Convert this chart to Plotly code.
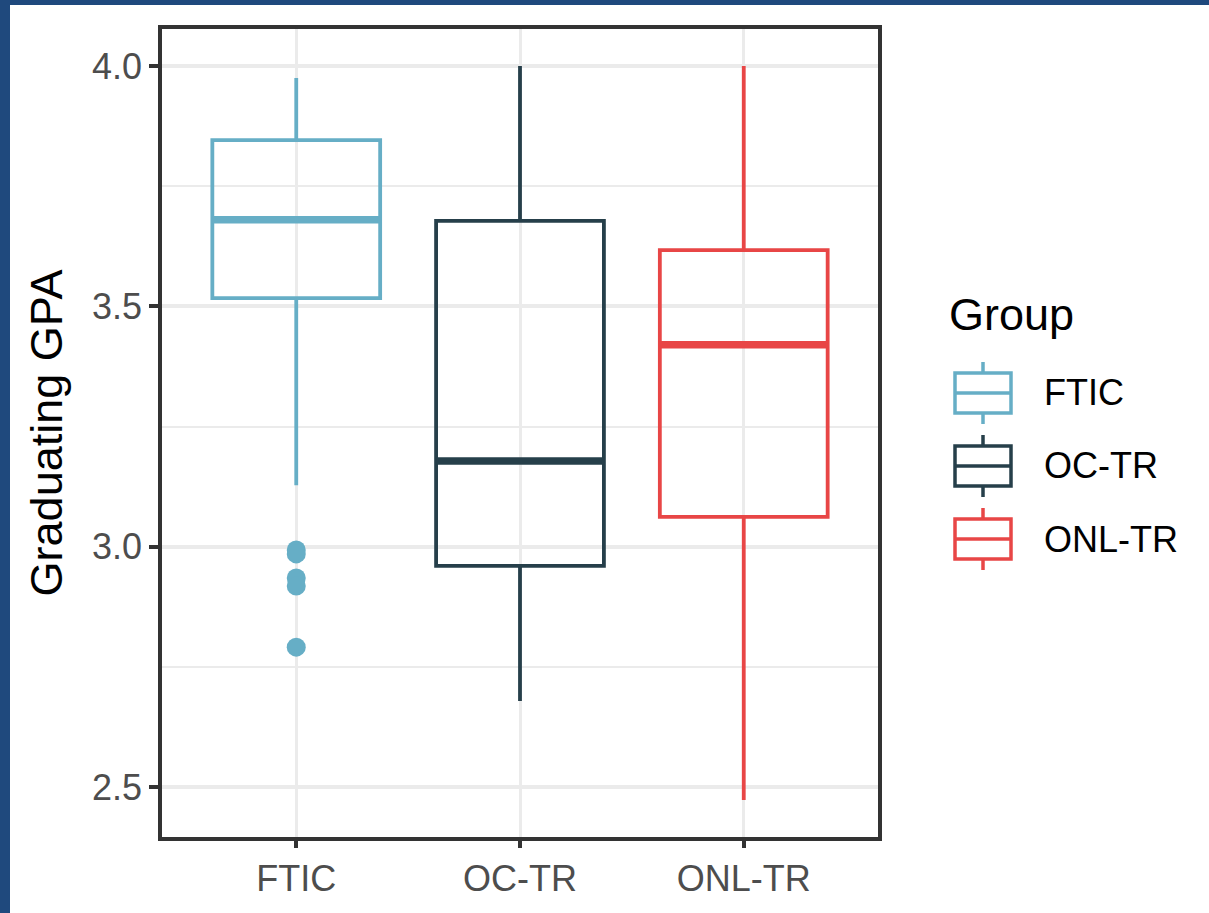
import plotly.graph_objects as go

# Summary statistics of graduating GPA by student group
groups = ["FTIC", "OC-TR", "ONL-TR"]
colors = ["#66AEC6", "#263F4A", "#E84646"]
q1 = [3.517, 2.960, 3.062]
median = [3.680, 3.178, 3.420]
q3 = [3.846, 3.678, 3.617]
lower_fence = [3.128, 2.679, 2.473]
upper_fence = [3.975, 4.000, 4.000]
ftic_outliers = [2.993, 2.985, 2.935, 2.918, 2.791]

W, H = 1209, 913
L, R, T, B = 162, 878, 29, 837


def px(x):
    return (x - L) / (R - L)


def py(y):
    return (B - y) / (B - T)


BOX_W = 0.75
fig = go.Figure()

for i, g in enumerate(groups):
    fig.add_trace(go.Box(
        x=[i], q1=[q1[i]], median=[median[i]], q3=[q3[i]],
        lowerfence=[lower_fence[i]], upperfence=[upper_fence[i]],
        width=BOX_W, whiskerwidth=0, boxpoints=False,
        line=dict(color=colors[i], width=3.8), fillcolor="rgba(0,0,0,0)",
        name=g, showlegend=False, hoverinfo="skip",
    ))
    # thicker median bar
    fig.add_trace(go.Scatter(
        x=[i - BOX_W / 2, i + BOX_W / 2], y=[median[i], median[i]],
        mode="lines", line=dict(color=colors[i], width=7.5),
        showlegend=False, hoverinfo="skip",
    ))

fig.add_trace(go.Scatter(
    x=[0] * len(ftic_outliers), y=ftic_outliers, mode="markers",
    marker=dict(color=colors[0], size=19, line=dict(width=0)),
    showlegend=False, hoverinfo="skip",
))

shapes = []
annotations = []

# Hand-built legend with boxplot keys
annotations.append(dict(
    x=px(947), y=py(314), xref="paper", yref="paper", text="Group",
    showarrow=False, xanchor="left", yanchor="middle",
    font=dict(size=45, color="#000000", family="Liberation Sans, Arial"),
))
for k, g in enumerate(groups):
    cy = 393 + 73 * k
    c = colors[k]
    shapes.append(dict(type="line", xref="paper", yref="paper",
                       x0=px(983), x1=px(983), y0=py(cy - 31), y1=py(cy + 31),
                       line=dict(color=c, width=3.5), layer="above"))
    shapes.append(dict(type="rect", xref="paper", yref="paper",
                       x0=px(955), x1=px(1011), y0=py(cy - 20), y1=py(cy + 20),
                       line=dict(color=c, width=3.5), fillcolor="white", layer="above"))
    shapes.append(dict(type="line", xref="paper", yref="paper",
                       x0=px(955), x1=px(1011), y0=py(cy), y1=py(cy),
                       line=dict(color=c, width=3.5), layer="above"))
    annotations.append(dict(
        x=px(1042), y=py(cy), xref="paper", yref="paper", text=g,
        showarrow=False, xanchor="left", yanchor="middle",
        font=dict(size=36, color="#000000", family="Liberation Sans, Arial"),
    ))

# Blue frame along the left and top edges
frame = "#1F497D"
shapes.append(dict(type="rect", xref="paper", yref="paper",
                   x0=px(-20), x1=px(10), y0=py(940), y1=py(-20),
                   fillcolor=frame, line=dict(width=0), layer="above"))
shapes.append(dict(type="rect", xref="paper", yref="paper",
                   x0=px(-20), x1=px(1240), y0=py(5), y1=py(-20),
                   fillcolor=frame, line=dict(width=0), layer="above"))

fig.update_layout(
    width=W, height=H,
    margin=dict(l=L, r=W - R, t=T, b=H - B),
    paper_bgcolor="white", plot_bgcolor="white",
    font=dict(family="Liberation Sans, Arial", color="#4D4D4D"),
    shapes=shapes, annotations=annotations,
    showlegend=False,
)

fig.update_xaxes(
    range=[-0.6, 2.6], tickvals=[0, 1, 2], ticktext=groups,
    showgrid=True, gridcolor="#EBEBEB", gridwidth=3, zeroline=False,
    ticks="outside", ticklen=7, tickwidth=3.5, tickcolor="#333333",
    tickfont=dict(size=36, color="#4D4D4D"),
    showline=True, linecolor="#333333", linewidth=3.5, mirror=True,
)
fig.update_yaxes(
    range=[2.396, 4.077], tickvals=[2.5, 3.0, 3.5, 4.0],
    ticktext=["2.5", "3.0", "3.5", "4.0"],
    showgrid=True, gridcolor="#EBEBEB", gridwidth=3.5, zeroline=False,
    minor=dict(tickvals=[2.75, 3.25, 3.75], showgrid=True,
               gridcolor="#EBEBEB", gridwidth=2),
    ticks="outside", ticklen=9, tickwidth=3.5, tickcolor="#333333",
    tickfont=dict(size=36, color="#4D4D4D"),
    showline=True, linecolor="#333333", linewidth=3.5, mirror=True,
    title=dict(text="Graduating GPA", font=dict(size=45, color="#000000"), standoff=16),
)

fig.write_html("out.html")
